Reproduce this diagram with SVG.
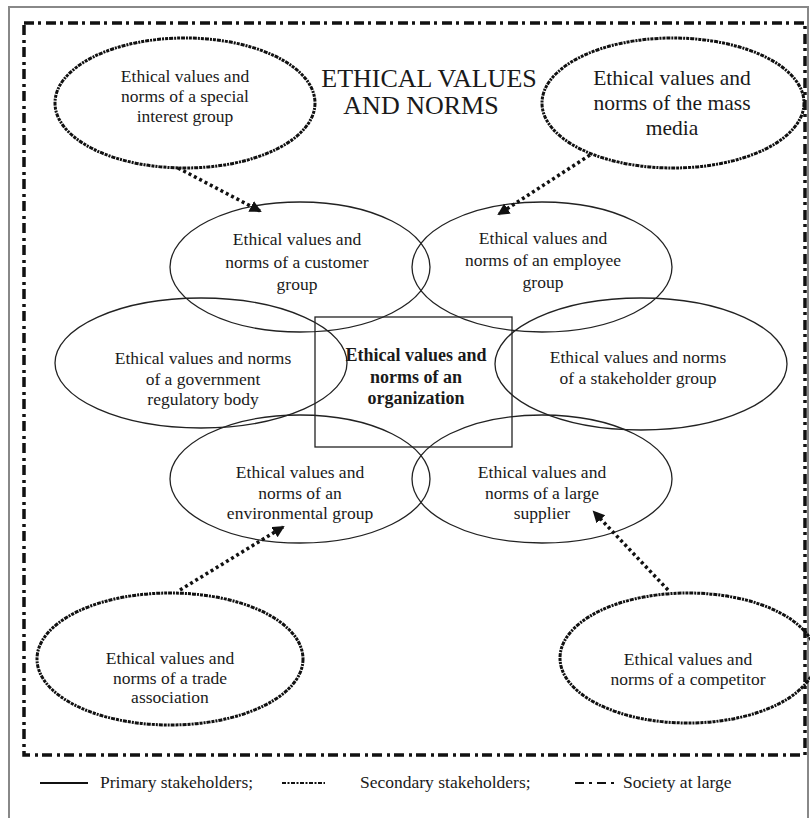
<svg xmlns="http://www.w3.org/2000/svg" width="810" height="818" viewBox="0 0 810 818">
  <style>
    text { font-family: "Liberation Serif", "Times New Roman", serif; fill: #1a1a1a; text-anchor: middle; }
    .t { font-size: 17.5px; }
    .tb { font-size: 18px; font-weight: bold; }
    .big { font-size: 21.5px; }
    .title { font-size: 26px; }
    .leg { font-size: 17.5px; text-anchor: start; }
    .prim { fill: none; stroke: #222; stroke-width: 1.3; }
    .sec { fill: none; stroke: #111; stroke-width: 3; stroke-dasharray: 4 1 2 1 3 1; }
    .soc { fill: none; stroke: #111; stroke-width: 3.5; stroke-dasharray: 10 4 3 5; }
    .conn { fill: none; stroke: #111; stroke-width: 3.5; stroke-dasharray: 3 3; }
  </style>
  <defs>
    <marker id="arr" markerUnits="userSpaceOnUse" markerWidth="14" markerHeight="14" refX="10" refY="6" orient="auto">
      <path d="M0,0 L12,6 L0,12 Z" fill="#111"/>
    </marker>
  </defs>
  <rect x="0" y="0" width="810" height="818" fill="#ffffff"/>
  <!-- outer frame -->
  <path d="M9,830 L9,7 L808,7 L808,830" fill="none" stroke="#888" stroke-width="2"/>
  <!-- society at large boundary -->
  <rect id="society" x="24" y="23" width="781" height="732" class="soc"/>

  <g id="title">
    <text class="title" x="429" y="87">ETHICAL VALUES</text>
    <text class="title" x="421" y="114">AND NORMS</text>
  </g>

  <g id="special-interest">
    <ellipse cx="185" cy="103" rx="130" ry="65" class="sec"/>
    <text class="t" x="185" y="82">Ethical values and</text>
    <text class="t" x="185" y="102">norms of a special</text>
    <text class="t" x="185" y="122">interest group</text>
  </g>
  <g id="mass-media">
    <ellipse cx="673" cy="103" rx="131" ry="65" class="sec"/>
    <text class="big" x="672" y="85">Ethical values and</text>
    <text class="big" x="672" y="110">norms of the mass</text>
    <text class="big" x="672" y="135">media</text>
  </g>

  <g id="customer">
    <ellipse cx="300" cy="267" rx="130" ry="65" class="prim"/>
    <text class="t" x="297" y="245">Ethical values and</text>
    <text class="t" x="297" y="268">norms of a customer</text>
    <text class="t" x="297" y="290">group</text>
  </g>
  <g id="employee">
    <ellipse cx="542" cy="267" rx="130" ry="65" class="prim"/>
    <text class="t" x="543" y="244">Ethical values and</text>
    <text class="t" x="543" y="266">norms of an employee</text>
    <text class="t" x="543" y="288">group</text>
  </g>
  <g id="government">
    <ellipse cx="201" cy="363" rx="146" ry="65" class="prim"/>
    <text class="t" x="203" y="364">Ethical values and norms</text>
    <text class="t" x="203" y="385">of a government</text>
    <text class="t" x="203" y="405">regulatory body</text>
  </g>
  <g id="stakeholder">
    <ellipse cx="641" cy="364" rx="146" ry="66" class="prim"/>
    <text class="t" x="638" y="363">Ethical values and norms</text>
    <text class="t" x="638" y="384">of a stakeholder group</text>
  </g>
  <g id="environmental">
    <ellipse cx="300" cy="479" rx="130" ry="64" class="prim"/>
    <text class="t" x="300" y="478">Ethical values and</text>
    <text class="t" x="300" y="499">norms of an</text>
    <text class="t" x="300" y="519">environmental group</text>
  </g>
  <g id="supplier">
    <ellipse cx="542" cy="479" rx="130" ry="64" class="prim"/>
    <text class="t" x="542" y="478">Ethical values and</text>
    <text class="t" x="542" y="499">norms of a large</text>
    <text class="t" x="542" y="519">supplier</text>
  </g>

  <g id="organization">
    <rect x="315" y="317" width="197" height="130" class="prim"/>
    <text class="tb" x="416" y="361">Ethical values and</text>
    <text class="tb" x="416" y="383">norms of an</text>
    <text class="tb" x="416" y="404">organization</text>
  </g>

  <g id="trade-association">
    <ellipse cx="170" cy="659" rx="133" ry="66" class="sec"/>
    <text class="t" x="170" y="664">Ethical values and</text>
    <text class="t" x="170" y="684">norms of a trade</text>
    <text class="t" x="170" y="703">association</text>
  </g>
  <g id="competitor">
    <ellipse cx="688" cy="658" rx="128" ry="65" class="sec"/>
    <text class="t" x="688" y="665">Ethical values and</text>
    <text class="t" x="688" y="685">norms of a competitor</text>
  </g>

  <g id="connectors">
    <path class="conn" d="M178,168 L260,211" marker-end="url(#arr)"/>
    <path class="conn" d="M590,155 L499,214" marker-end="url(#arr)"/>
    <path class="conn" d="M180,590 L283,527" marker-end="url(#arr)"/>
    <path class="conn" d="M668,590 L594,512" marker-end="url(#arr)"/>
  </g>

  <g id="legend">
    <line x1="40" y1="783" x2="88" y2="783" stroke="#111" stroke-width="2"/>
    <text class="leg" x="100" y="788">Primary stakeholders;</text>
    <line x1="282" y1="783" x2="325" y2="783" stroke="#111" stroke-width="2" stroke-dasharray="4 1.5 2 1.5"/>
    <text class="leg" x="360" y="788">Secondary stakeholders;</text>
    <line x1="575" y1="783" x2="617" y2="783" stroke="#111" stroke-width="2" stroke-dasharray="9 5 3 5"/>
    <text class="leg" x="623" y="788">Society at large</text>
  </g>
</svg>
